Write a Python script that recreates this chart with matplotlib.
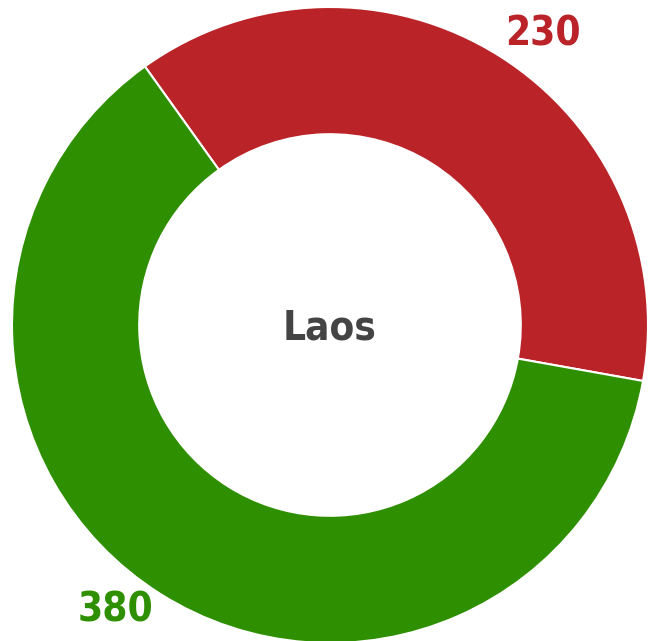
import matplotlib
matplotlib.use("Agg")
import matplotlib.pyplot as plt

labels = ["Red", "Green"]
values = [230, 380]
colors = ["#BA2428", "#2E8F00"]
center_label = "Laos"

fig = plt.figure(figsize=(6.53, 6.41), dpi=100)
ax = fig.add_axes([0, 0, 1, 1])

R = 318
cx, cy = 330, 316
ax.pie(values, colors=colors, startangle=125.6, counterclock=False,
       radius=R, center=(cx, cy), frame=True,
       wedgeprops=dict(width=R * 0.4, edgecolor="white", linewidth=1.5))
ax.set_xlim(0, 653)
ax.set_ylim(0, 641)
ax.axis("off")

font = dict(family=["DejaVu Sans"], fontstretch="condensed", fontweight="bold", fontsize=29)
ax.text(cx, cy - 4, center_label, ha="center", va="center", color="#444444", **font)
ax.text(543, 606, str(values[0]), ha="center", va="center", color=colors[0], **font)
ax.text(116, 31, str(values[1]), ha="center", va="center", color=colors[1], **font)

plt.savefig("out.png", dpi=100)
